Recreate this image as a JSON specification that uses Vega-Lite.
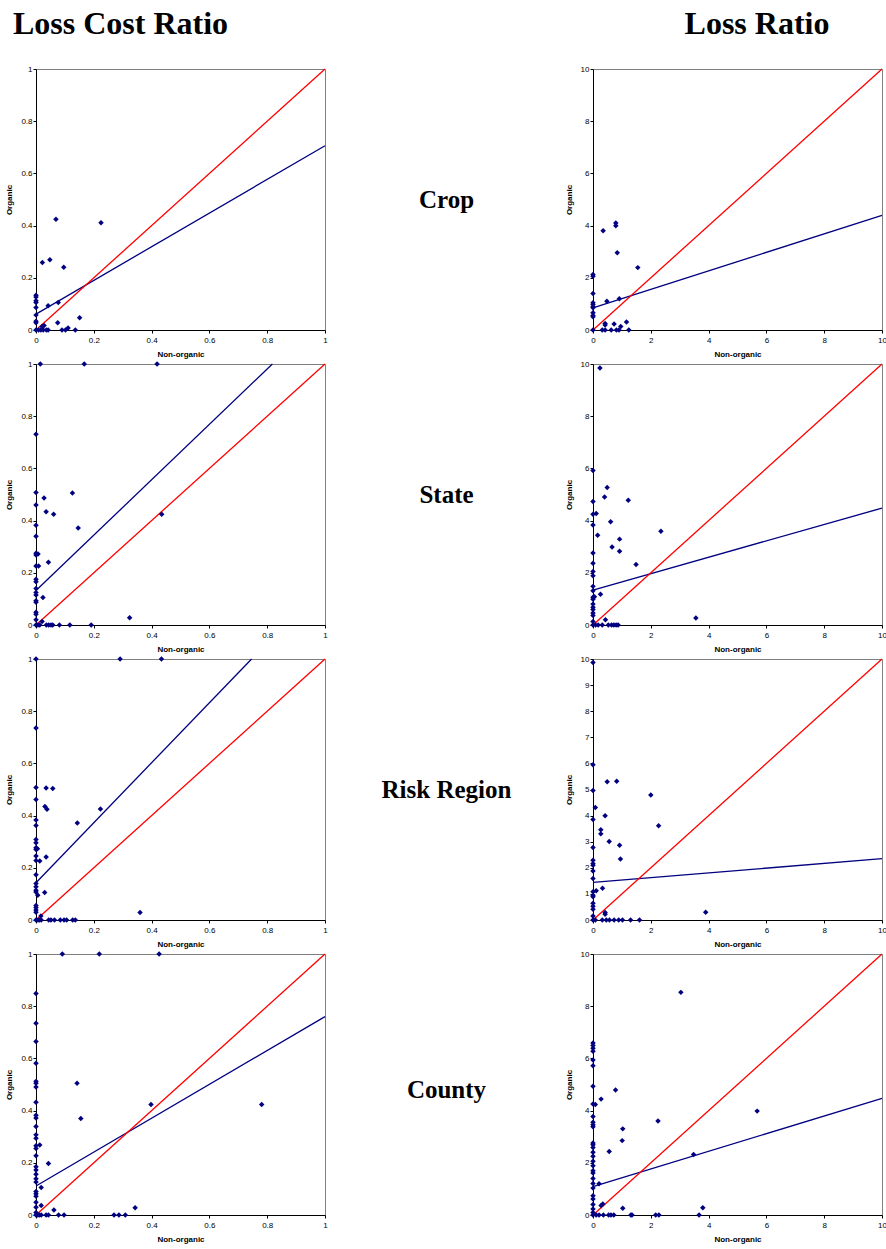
{
  "$schema": "https://vega.github.io/schema/vega-lite/v6.json",
  "padding": {"left": 5, "top": 5, "right": 0, "bottom": 0},
  "background": "white",
  "spacing": 0,
  "config": {
    "view": {"stroke": "#808080", "strokeWidth": 1},
    "axis": {"grid": false, "domainColor": "#000000", "domainWidth": 1, "tickColor": "#000000", "tickSize": 3, "labelFont": "Liberation Sans", "labelFontSize": 8, "labelColor": "#000000", "labelPadding": 1, "labelFlush": false, "labelOverlap": false, "titleFont": "Liberation Sans", "titleFontSize": 8, "titleFontWeight": "bold", "titleColor": "#000000", "titlePadding": 7},
    "axisX": {"labelPadding": 3, "titlePadding": 6}
  },
  "datasets": {
    "crop_lcr": [{"nonorganic":0.069,"organic":0.424},{"nonorganic":0.225,"organic":0.411},{"nonorganic":0.022,"organic":0.259},{"nonorganic":0.048,"organic":0.269},{"nonorganic":0.096,"organic":0.240},{"nonorganic":0,"organic":0.133},{"nonorganic":0,"organic":0.126},{"nonorganic":0,"organic":0.112},{"nonorganic":0,"organic":0.105},{"nonorganic":0,"organic":0.086},{"nonorganic":0.042,"organic":0.093},{"nonorganic":0.077,"organic":0.105},{"nonorganic":0,"organic":0.057},{"nonorganic":0,"organic":0.034},{"nonorganic":0,"organic":0.028},{"nonorganic":0.075,"organic":0.028},{"nonorganic":0.151,"organic":0.047},{"nonorganic":0.021,"organic":0.013},{"nonorganic":0.028,"organic":0.017},{"nonorganic":0.111,"organic":0.008},{"nonorganic":0.102,"organic":0},{"nonorganic":0.09,"organic":0},{"nonorganic":0.136,"organic":0},{"nonorganic":0,"organic":0},{"nonorganic":0.009,"organic":0},{"nonorganic":0.017,"organic":0},{"nonorganic":0.025,"organic":0},{"nonorganic":0.036,"organic":0},{"nonorganic":0.042,"organic":0}],
    "crop_lcr_lines": [{"line":"fit","nonorganic":0,"organic":0.061},{"line":"fit","nonorganic":1,"organic":0.706},{"line":"equality","nonorganic":0,"organic":0},{"line":"equality","nonorganic":1,"organic":1}],
    "crop_lr": [{"nonorganic":0.35,"organic":3.80},{"nonorganic":0.79,"organic":4.10},{"nonorganic":0.79,"organic":3.99},{"nonorganic":0.84,"organic":2.96},{"nonorganic":1.55,"organic":2.39},{"nonorganic":0,"organic":2.13},{"nonorganic":0,"organic":2.06},{"nonorganic":0,"organic":1.40},{"nonorganic":0,"organic":1.04},{"nonorganic":0,"organic":0.98},{"nonorganic":0,"organic":0.89},{"nonorganic":0,"organic":0.85},{"nonorganic":0,"organic":0.66},{"nonorganic":0,"organic":0.56},{"nonorganic":0,"organic":0.51},{"nonorganic":0.48,"organic":1.10},{"nonorganic":0.91,"organic":1.20},{"nonorganic":0.42,"organic":0.25},{"nonorganic":0.42,"organic":0.19},{"nonorganic":0.73,"organic":0.23},{"nonorganic":0.96,"organic":0.13},{"nonorganic":1.16,"organic":0.31},{"nonorganic":0,"organic":0},{"nonorganic":0.32,"organic":0},{"nonorganic":0.42,"organic":0},{"nonorganic":0.63,"organic":0},{"nonorganic":0.81,"organic":0},{"nonorganic":0.90,"organic":0},{"nonorganic":1.24,"organic":0}],
    "crop_lr_lines": [{"line":"fit","nonorganic":0,"organic":0.85},{"line":"fit","nonorganic":10,"organic":4.39},{"line":"equality","nonorganic":0,"organic":0},{"line":"equality","nonorganic":10,"organic":10}],
    "state_lcr": [{"nonorganic":0.015,"organic":1},{"nonorganic":0.167,"organic":1},{"nonorganic":0.419,"organic":1},{"nonorganic":0,"organic":0.731},{"nonorganic":0,"organic":0.508},{"nonorganic":0,"organic":0.460},{"nonorganic":0,"organic":0.382},{"nonorganic":0,"organic":0.340},{"nonorganic":0,"organic":0.275},{"nonorganic":0,"organic":0.268},{"nonorganic":0.007,"organic":0.272},{"nonorganic":0,"organic":0.226},{"nonorganic":0.009,"organic":0.226},{"nonorganic":0,"organic":0.175},{"nonorganic":0,"organic":0.166},{"nonorganic":0,"organic":0.140},{"nonorganic":0,"organic":0.125},{"nonorganic":0,"organic":0.115},{"nonorganic":0,"organic":0.093},{"nonorganic":0,"organic":0.087},{"nonorganic":0,"organic":0.049},{"nonorganic":0,"organic":0.041},{"nonorganic":0,"organic":0.02},{"nonorganic":0.028,"organic":0.487},{"nonorganic":0.035,"organic":0.434},{"nonorganic":0.061,"organic":0.424},{"nonorganic":0.126,"organic":0.506},{"nonorganic":0.146,"organic":0.372},{"nonorganic":0.043,"organic":0.240},{"nonorganic":0.024,"organic":0.105},{"nonorganic":0.021,"organic":0.013},{"nonorganic":0.435,"organic":0.424},{"nonorganic":0.324,"organic":0.028},{"nonorganic":0,"organic":0},{"nonorganic":0.007,"organic":0},{"nonorganic":0.013,"organic":0},{"nonorganic":0.036,"organic":0},{"nonorganic":0.044,"organic":0},{"nonorganic":0.052,"organic":0},{"nonorganic":0.058,"organic":0},{"nonorganic":0.081,"organic":0},{"nonorganic":0.117,"organic":0},{"nonorganic":0.191,"organic":0}],
    "state_lcr_lines": [{"line":"fit","nonorganic":0,"organic":0.132},{"line":"fit","nonorganic":0.818,"organic":1},{"line":"equality","nonorganic":0,"organic":0},{"line":"equality","nonorganic":1,"organic":1}],
    "state_lr": [{"nonorganic":0.24,"organic":9.85},{"nonorganic":0,"organic":5.92},{"nonorganic":0,"organic":4.73},{"nonorganic":0,"organic":4.24},{"nonorganic":0.11,"organic":4.27},{"nonorganic":0,"organic":3.83},{"nonorganic":0,"organic":2.76},{"nonorganic":0,"organic":2.37},{"nonorganic":0,"organic":2.05},{"nonorganic":0,"organic":1.89},{"nonorganic":0,"organic":1.48},{"nonorganic":0,"organic":1.31},{"nonorganic":0,"organic":1.06},{"nonorganic":0,"organic":0.99},{"nonorganic":0.05,"organic":1.08},{"nonorganic":0,"organic":0.80},{"nonorganic":0,"organic":0.68},{"nonorganic":0,"organic":0.59},{"nonorganic":0,"organic":0.46},{"nonorganic":0,"organic":0.36},{"nonorganic":0,"organic":0.13},{"nonorganic":0.49,"organic":5.27},{"nonorganic":0.40,"organic":4.90},{"nonorganic":1.22,"organic":4.78},{"nonorganic":0.61,"organic":3.96},{"nonorganic":0.16,"organic":3.44},{"nonorganic":0.92,"organic":3.29},{"nonorganic":0.66,"organic":2.99},{"nonorganic":0.92,"organic":2.83},{"nonorganic":2.35,"organic":3.59},{"nonorganic":1.49,"organic":2.32},{"nonorganic":0.26,"organic":1.18},{"nonorganic":0.43,"organic":0.20},{"nonorganic":3.56,"organic":0.27},{"nonorganic":0,"organic":0},{"nonorganic":0.09,"organic":0},{"nonorganic":0.18,"organic":0},{"nonorganic":0.32,"organic":0},{"nonorganic":0.53,"organic":0},{"nonorganic":0.64,"organic":0},{"nonorganic":0.72,"organic":0},{"nonorganic":0.80,"organic":0},{"nonorganic":0.87,"organic":0}],
    "state_lr_lines": [{"line":"fit","nonorganic":0,"organic":1.34},{"line":"fit","nonorganic":10,"organic":4.48},{"line":"equality","nonorganic":0,"organic":0},{"line":"equality","nonorganic":10,"organic":10}],
    "rr_lcr": [{"nonorganic":0,"organic":1},{"nonorganic":0.291,"organic":1},{"nonorganic":0.434,"organic":1},{"nonorganic":0,"organic":0.736},{"nonorganic":0,"organic":0.508},{"nonorganic":0,"organic":0.462},{"nonorganic":0,"organic":0.383},{"nonorganic":0,"organic":0.362},{"nonorganic":0,"organic":0.308},{"nonorganic":0,"organic":0.296},{"nonorganic":0,"organic":0.277},{"nonorganic":0,"organic":0.270},{"nonorganic":0,"organic":0.245},{"nonorganic":0,"organic":0.228},{"nonorganic":0.005,"organic":0.273},{"nonorganic":0.013,"organic":0.226},{"nonorganic":0,"organic":0.173},{"nonorganic":0,"organic":0.140},{"nonorganic":0,"organic":0.127},{"nonorganic":0,"organic":0.114},{"nonorganic":0,"organic":0.107},{"nonorganic":0.006,"organic":0.095},{"nonorganic":0,"organic":0.056},{"nonorganic":0,"organic":0.048},{"nonorganic":0,"organic":0.038},{"nonorganic":0,"organic":0.030},{"nonorganic":0.035,"organic":0.506},{"nonorganic":0.058,"organic":0.504},{"nonorganic":0.031,"organic":0.435},{"nonorganic":0.038,"organic":0.424},{"nonorganic":0.223,"organic":0.425},{"nonorganic":0.143,"organic":0.372},{"nonorganic":0.035,"organic":0.241},{"nonorganic":0.030,"organic":0.105},{"nonorganic":0.017,"organic":0.015},{"nonorganic":0.360,"organic":0.029},{"nonorganic":0,"organic":0},{"nonorganic":0.007,"organic":0},{"nonorganic":0.012,"organic":0},{"nonorganic":0.018,"organic":0},{"nonorganic":0.044,"organic":0},{"nonorganic":0.052,"organic":0},{"nonorganic":0.064,"organic":0},{"nonorganic":0.084,"organic":0},{"nonorganic":0.097,"organic":0},{"nonorganic":0.106,"organic":0},{"nonorganic":0.127,"organic":0},{"nonorganic":0.136,"organic":0}],
    "rr_lcr_lines": [{"line":"fit","nonorganic":0,"organic":0.143},{"line":"fit","nonorganic":0.746,"organic":1},{"line":"equality","nonorganic":0,"organic":0},{"line":"equality","nonorganic":1,"organic":1}],
    "rr_lr": [{"nonorganic":0,"organic":9.87},{"nonorganic":0,"organic":5.95},{"nonorganic":0,"organic":4.96},{"nonorganic":0.08,"organic":4.31},{"nonorganic":0,"organic":3.85},{"nonorganic":0,"organic":2.78},{"nonorganic":0,"organic":2.29},{"nonorganic":0,"organic":2.16},{"nonorganic":0,"organic":2.10},{"nonorganic":0,"organic":1.88},{"nonorganic":0,"organic":1.59},{"nonorganic":0,"organic":1.08},{"nonorganic":0,"organic":0.95},{"nonorganic":0,"organic":0.89},{"nonorganic":0.11,"organic":1.12},{"nonorganic":0,"organic":0.64},{"nonorganic":0,"organic":0.53},{"nonorganic":0,"organic":0.41},{"nonorganic":0,"organic":0.15},{"nonorganic":0.49,"organic":5.30},{"nonorganic":0.82,"organic":5.32},{"nonorganic":2.00,"organic":4.79},{"nonorganic":0.42,"organic":3.99},{"nonorganic":0.27,"organic":3.46},{"nonorganic":0.27,"organic":3.30},{"nonorganic":0.56,"organic":3.01},{"nonorganic":0.92,"organic":2.86},{"nonorganic":0.95,"organic":2.34},{"nonorganic":2.27,"organic":3.61},{"nonorganic":0.33,"organic":1.22},{"nonorganic":0.42,"organic":0.29},{"nonorganic":0.42,"organic":0.22},{"nonorganic":3.90,"organic":0.30},{"nonorganic":0,"organic":0},{"nonorganic":0.08,"organic":0},{"nonorganic":0.32,"organic":0},{"nonorganic":0.46,"organic":0},{"nonorganic":0.57,"organic":0},{"nonorganic":0.73,"organic":0},{"nonorganic":0.89,"organic":0},{"nonorganic":1.02,"organic":0},{"nonorganic":1.30,"organic":0},{"nonorganic":1.61,"organic":0}],
    "rr_lr_lines": [{"line":"fit","nonorganic":0,"organic":1.44},{"line":"fit","nonorganic":10,"organic":2.35},{"line":"equality","nonorganic":0,"organic":0},{"line":"equality","nonorganic":10,"organic":10}],
    "county_lcr": [{"nonorganic":0.091,"organic":1},{"nonorganic":0.219,"organic":1},{"nonorganic":0.426,"organic":1},{"nonorganic":0,"organic":0.849},{"nonorganic":0,"organic":0.735},{"nonorganic":0,"organic":0.665},{"nonorganic":0,"organic":0.581},{"nonorganic":0,"organic":0.512},{"nonorganic":0,"organic":0.505},{"nonorganic":0,"organic":0.490},{"nonorganic":0,"organic":0.432},{"nonorganic":0,"organic":0.382},{"nonorganic":0,"organic":0.372},{"nonorganic":0,"organic":0.339},{"nonorganic":0,"organic":0.307},{"nonorganic":0,"organic":0.294},{"nonorganic":0,"organic":0.265},{"nonorganic":0,"organic":0.255},{"nonorganic":0.013,"organic":0.268},{"nonorganic":0,"organic":0.227},{"nonorganic":0,"organic":0.185},{"nonorganic":0,"organic":0.172},{"nonorganic":0,"organic":0.156},{"nonorganic":0,"organic":0.139},{"nonorganic":0,"organic":0.126},{"nonorganic":0,"organic":0.090},{"nonorganic":0,"organic":0.081},{"nonorganic":0,"organic":0.072},{"nonorganic":0,"organic":0.049},{"nonorganic":0,"organic":0.030},{"nonorganic":0,"organic":0.010},{"nonorganic":0.018,"organic":0.105},{"nonorganic":0.018,"organic":0.036},{"nonorganic":0.043,"organic":0.197},{"nonorganic":0.142,"organic":0.505},{"nonorganic":0.155,"organic":0.370},{"nonorganic":0.398,"organic":0.423},{"nonorganic":0.781,"organic":0.423},{"nonorganic":0.062,"organic":0.019},{"nonorganic":0.343,"organic":0.028},{"nonorganic":0,"organic":0},{"nonorganic":0.006,"organic":0},{"nonorganic":0.012,"organic":0},{"nonorganic":0.018,"organic":0},{"nonorganic":0.035,"organic":0},{"nonorganic":0.043,"organic":0},{"nonorganic":0.078,"organic":0},{"nonorganic":0.097,"organic":0},{"nonorganic":0.270,"organic":0},{"nonorganic":0.287,"organic":0},{"nonorganic":0.309,"organic":0}],
    "county_lcr_lines": [{"line":"fit","nonorganic":0,"organic":0.111},{"line":"fit","nonorganic":1,"organic":0.760},{"line":"equality","nonorganic":0,"organic":0},{"line":"equality","nonorganic":1,"organic":1}],
    "county_lr": [{"nonorganic":3.04,"organic":8.53},{"nonorganic":0,"organic":6.59},{"nonorganic":0,"organic":6.49},{"nonorganic":0,"organic":6.39},{"nonorganic":0,"organic":6.27},{"nonorganic":0,"organic":5.94},{"nonorganic":0,"organic":5.72},{"nonorganic":0,"organic":4.93},{"nonorganic":0,"organic":4.25},{"nonorganic":0.08,"organic":4.23},{"nonorganic":0,"organic":3.77},{"nonorganic":0,"organic":3.55},{"nonorganic":0,"organic":3.46},{"nonorganic":0,"organic":3.38},{"nonorganic":0,"organic":2.76},{"nonorganic":0,"organic":2.69},{"nonorganic":0,"organic":2.59},{"nonorganic":0,"organic":2.40},{"nonorganic":0,"organic":2.25},{"nonorganic":0,"organic":2.06},{"nonorganic":0,"organic":1.89},{"nonorganic":0,"organic":1.70},{"nonorganic":0,"organic":1.61},{"nonorganic":0,"organic":1.40},{"nonorganic":0,"organic":1.21},{"nonorganic":0,"organic":1.03},{"nonorganic":0,"organic":0.74},{"nonorganic":0,"organic":0.61},{"nonorganic":0,"organic":0.40},{"nonorganic":0,"organic":0.23},{"nonorganic":0,"organic":0.10},{"nonorganic":0.78,"organic":4.79},{"nonorganic":0.28,"organic":4.44},{"nonorganic":1.03,"organic":3.30},{"nonorganic":1.01,"organic":2.85},{"nonorganic":2.25,"organic":3.60},{"nonorganic":0.56,"organic":2.43},{"nonorganic":3.48,"organic":2.32},{"nonorganic":5.68,"organic":3.98},{"nonorganic":0.21,"organic":1.20},{"nonorganic":0.28,"organic":0.36},{"nonorganic":0.34,"organic":0.42},{"nonorganic":1.03,"organic":0.26},{"nonorganic":3.80,"organic":0.28},{"nonorganic":0,"organic":0},{"nonorganic":0.11,"organic":0},{"nonorganic":0.21,"organic":0},{"nonorganic":0.36,"organic":0},{"nonorganic":0.54,"organic":0},{"nonorganic":0.62,"organic":0},{"nonorganic":0.72,"organic":0},{"nonorganic":1.31,"organic":0},{"nonorganic":1.35,"organic":0},{"nonorganic":2.17,"organic":0},{"nonorganic":2.28,"organic":0},{"nonorganic":3.67,"organic":0}],
    "county_lr_lines": [{"line":"fit","nonorganic":0,"organic":1.09},{"line":"fit","nonorganic":10,"organic":4.47},{"line":"equality","nonorganic":0,"organic":0},{"line":"equality","nonorganic":10,"organic":10}],
    "titles_left": [{"label":"Loss Cost Ratio"}],
    "titles_right": [{"label":"Loss Ratio"}],
    "row_crop": [{"label":"Crop"}],
    "row_state": [{"label":"State"}],
    "row_rr": [{"label":"Risk Region"}],
    "row_county": [{"label":"County"}]
  },
  "vconcat": [
    {"hconcat": [
      {"width": 231, "height": 59, "view": {"stroke": null}, "data": {"name": "titles_left"}, "mark": {"type": "text", "font": "Liberation Serif", "fontSize": 32, "fontWeight": "bold", "color": "#000000", "dy": -11, "dx": -31}, "encoding": {"text": {"field": "label"}}},
      {"width": 250, "height": 59, "view": {"stroke": null}, "data": {"name": "titles_right"}, "mark": {"type": "text", "font": "Liberation Serif", "fontSize": 32, "fontWeight": "bold", "color": "#000000", "dy": -11, "dx": -31}, "encoding": {"text": {"field": "label"}}}
    ], "spacing": 396},
    {"hconcat": [
      {"width": 289, "height": 261,
       "encoding": {"x": {"field": "nonorganic", "type": "quantitative", "scale": {"domain": [0, 1], "nice": false}, "axis": {"values": [0, 0.2, 0.4, 0.6, 0.8, 1], "format": "~g", "title": "Non-organic"}}, "y": {"field": "organic", "type": "quantitative", "scale": {"domain": [0, 1], "nice": false}, "axis": {"values": [0, 0.2, 0.4, 0.6, 0.8, 1], "format": "~g", "title": "Organic"}}},
       "layer": [
         {"data": {"name": "crop_lcr_lines"}, "mark": {"type": "line", "strokeWidth": 1.3}, "encoding": {"color": {"field": "line", "type": "nominal", "scale": {"domain": ["fit", "equality"], "range": ["#000080", "#ff0000"]}, "legend": null}}},
         {"data": {"name": "crop_lcr"}, "mark": {"type": "point", "shape": "diamond", "filled": true, "size": 30, "color": "#000080", "opacity": 1}}
       ]},
      {"width": 215, "height": 261, "view": {"stroke": null}, "data": {"name": "row_crop"}, "mark": {"type": "text", "font": "Liberation Serif", "fontSize": 25, "fontWeight": "bold", "color": "#000000"}, "encoding": {"text": {"field": "label"}}},
      {"width": 289, "height": 261,
       "encoding": {"x": {"field": "nonorganic", "type": "quantitative", "scale": {"domain": [0, 10], "nice": false}, "axis": {"values": [0, 2, 4, 6, 8, 10], "format": "d", "title": "Non-organic"}}, "y": {"field": "organic", "type": "quantitative", "scale": {"domain": [0, 10], "nice": false}, "axis": {"values": [0, 2, 4, 6, 8, 10], "format": "d", "title": "Organic"}}},
       "layer": [
         {"data": {"name": "crop_lr_lines"}, "mark": {"type": "line", "strokeWidth": 1.3}, "encoding": {"color": {"field": "line", "type": "nominal", "scale": {"domain": ["fit", "equality"], "range": ["#000080", "#ff0000"]}, "legend": null}}},
         {"data": {"name": "crop_lr"}, "mark": {"type": "point", "shape": "diamond", "filled": true, "size": 30, "color": "#000080", "opacity": 1}}
       ]}
    ], "spacing": 10},
    {"hconcat": [
      {"width": 289, "height": 261,
       "encoding": {"x": {"field": "nonorganic", "type": "quantitative", "scale": {"domain": [0, 1], "nice": false}, "axis": {"values": [0, 0.2, 0.4, 0.6, 0.8, 1], "format": "~g", "title": "Non-organic"}}, "y": {"field": "organic", "type": "quantitative", "scale": {"domain": [0, 1], "nice": false}, "axis": {"values": [0, 0.2, 0.4, 0.6, 0.8, 1], "format": "~g", "title": "Organic"}}},
       "layer": [
         {"data": {"name": "state_lcr_lines"}, "mark": {"type": "line", "strokeWidth": 1.3}, "encoding": {"color": {"field": "line", "type": "nominal", "scale": {"domain": ["fit", "equality"], "range": ["#000080", "#ff0000"]}, "legend": null}}},
         {"data": {"name": "state_lcr"}, "mark": {"type": "point", "shape": "diamond", "filled": true, "size": 30, "color": "#000080", "opacity": 1}}
       ]},
      {"width": 215, "height": 261, "view": {"stroke": null}, "data": {"name": "row_state"}, "mark": {"type": "text", "font": "Liberation Serif", "fontSize": 25, "fontWeight": "bold", "color": "#000000"}, "encoding": {"text": {"field": "label"}}},
      {"width": 289, "height": 261,
       "encoding": {"x": {"field": "nonorganic", "type": "quantitative", "scale": {"domain": [0, 10], "nice": false}, "axis": {"values": [0, 2, 4, 6, 8, 10], "format": "d", "title": "Non-organic"}}, "y": {"field": "organic", "type": "quantitative", "scale": {"domain": [0, 10], "nice": false}, "axis": {"values": [0, 2, 4, 6, 8, 10], "format": "d", "title": "Organic"}}},
       "layer": [
         {"data": {"name": "state_lr_lines"}, "mark": {"type": "line", "strokeWidth": 1.3}, "encoding": {"color": {"field": "line", "type": "nominal", "scale": {"domain": ["fit", "equality"], "range": ["#000080", "#ff0000"]}, "legend": null}}},
         {"data": {"name": "state_lr"}, "mark": {"type": "point", "shape": "diamond", "filled": true, "size": 30, "color": "#000080", "opacity": 1}}
       ]}
    ], "spacing": 10},
    {"hconcat": [
      {"width": 289, "height": 261,
       "encoding": {"x": {"field": "nonorganic", "type": "quantitative", "scale": {"domain": [0, 1], "nice": false}, "axis": {"values": [0, 0.2, 0.4, 0.6, 0.8, 1], "format": "~g", "title": "Non-organic"}}, "y": {"field": "organic", "type": "quantitative", "scale": {"domain": [0, 1], "nice": false}, "axis": {"values": [0, 0.2, 0.4, 0.6, 0.8, 1], "format": "~g", "title": "Organic"}}},
       "layer": [
         {"data": {"name": "rr_lcr_lines"}, "mark": {"type": "line", "strokeWidth": 1.3}, "encoding": {"color": {"field": "line", "type": "nominal", "scale": {"domain": ["fit", "equality"], "range": ["#000080", "#ff0000"]}, "legend": null}}},
         {"data": {"name": "rr_lcr"}, "mark": {"type": "point", "shape": "diamond", "filled": true, "size": 30, "color": "#000080", "opacity": 1}}
       ]},
      {"width": 215, "height": 261, "view": {"stroke": null}, "data": {"name": "row_rr"}, "mark": {"type": "text", "font": "Liberation Serif", "fontSize": 25, "fontWeight": "bold", "color": "#000000"}, "encoding": {"text": {"field": "label"}}},
      {"width": 289, "height": 261,
       "encoding": {"x": {"field": "nonorganic", "type": "quantitative", "scale": {"domain": [0, 10], "nice": false}, "axis": {"values": [0, 2, 4, 6, 8, 10], "format": "d", "title": "Non-organic"}}, "y": {"field": "organic", "type": "quantitative", "scale": {"domain": [0, 10], "nice": false}, "axis": {"values": [0, 1, 2, 3, 4, 5, 6, 7, 8, 9, 10], "format": "d", "title": "Organic"}}},
       "layer": [
         {"data": {"name": "rr_lr_lines"}, "mark": {"type": "line", "strokeWidth": 1.3}, "encoding": {"color": {"field": "line", "type": "nominal", "scale": {"domain": ["fit", "equality"], "range": ["#000080", "#ff0000"]}, "legend": null}}},
         {"data": {"name": "rr_lr"}, "mark": {"type": "point", "shape": "diamond", "filled": true, "size": 30, "color": "#000080", "opacity": 1}}
       ]}
    ], "spacing": 10},
    {"hconcat": [
      {"width": 289, "height": 261,
       "encoding": {"x": {"field": "nonorganic", "type": "quantitative", "scale": {"domain": [0, 1], "nice": false}, "axis": {"values": [0, 0.2, 0.4, 0.6, 0.8, 1], "format": "~g", "title": "Non-organic"}}, "y": {"field": "organic", "type": "quantitative", "scale": {"domain": [0, 1], "nice": false}, "axis": {"values": [0, 0.2, 0.4, 0.6, 0.8, 1], "format": "~g", "title": "Organic"}}},
       "layer": [
         {"data": {"name": "county_lcr_lines"}, "mark": {"type": "line", "strokeWidth": 1.3}, "encoding": {"color": {"field": "line", "type": "nominal", "scale": {"domain": ["fit", "equality"], "range": ["#000080", "#ff0000"]}, "legend": null}}},
         {"data": {"name": "county_lcr"}, "mark": {"type": "point", "shape": "diamond", "filled": true, "size": 30, "color": "#000080", "opacity": 1}}
       ]},
      {"width": 215, "height": 261, "view": {"stroke": null}, "data": {"name": "row_county"}, "mark": {"type": "text", "font": "Liberation Serif", "fontSize": 25, "fontWeight": "bold", "color": "#000000", "dy": 5}, "encoding": {"text": {"field": "label"}}},
      {"width": 289, "height": 261,
       "encoding": {"x": {"field": "nonorganic", "type": "quantitative", "scale": {"domain": [0, 10], "nice": false}, "axis": {"values": [0, 2, 4, 6, 8, 10], "format": "d", "title": "Non-organic"}}, "y": {"field": "organic", "type": "quantitative", "scale": {"domain": [0, 10], "nice": false}, "axis": {"values": [0, 2, 4, 6, 8, 10], "format": "d", "title": "Organic"}}},
       "layer": [
         {"data": {"name": "county_lr_lines"}, "mark": {"type": "line", "strokeWidth": 1.3}, "encoding": {"color": {"field": "line", "type": "nominal", "scale": {"domain": ["fit", "equality"], "range": ["#000080", "#ff0000"]}, "legend": null}}},
         {"data": {"name": "county_lr"}, "mark": {"type": "point", "shape": "diamond", "filled": true, "size": 30, "color": "#000080", "opacity": 1}}
       ]}
    ], "spacing": 10}
  ]
}
